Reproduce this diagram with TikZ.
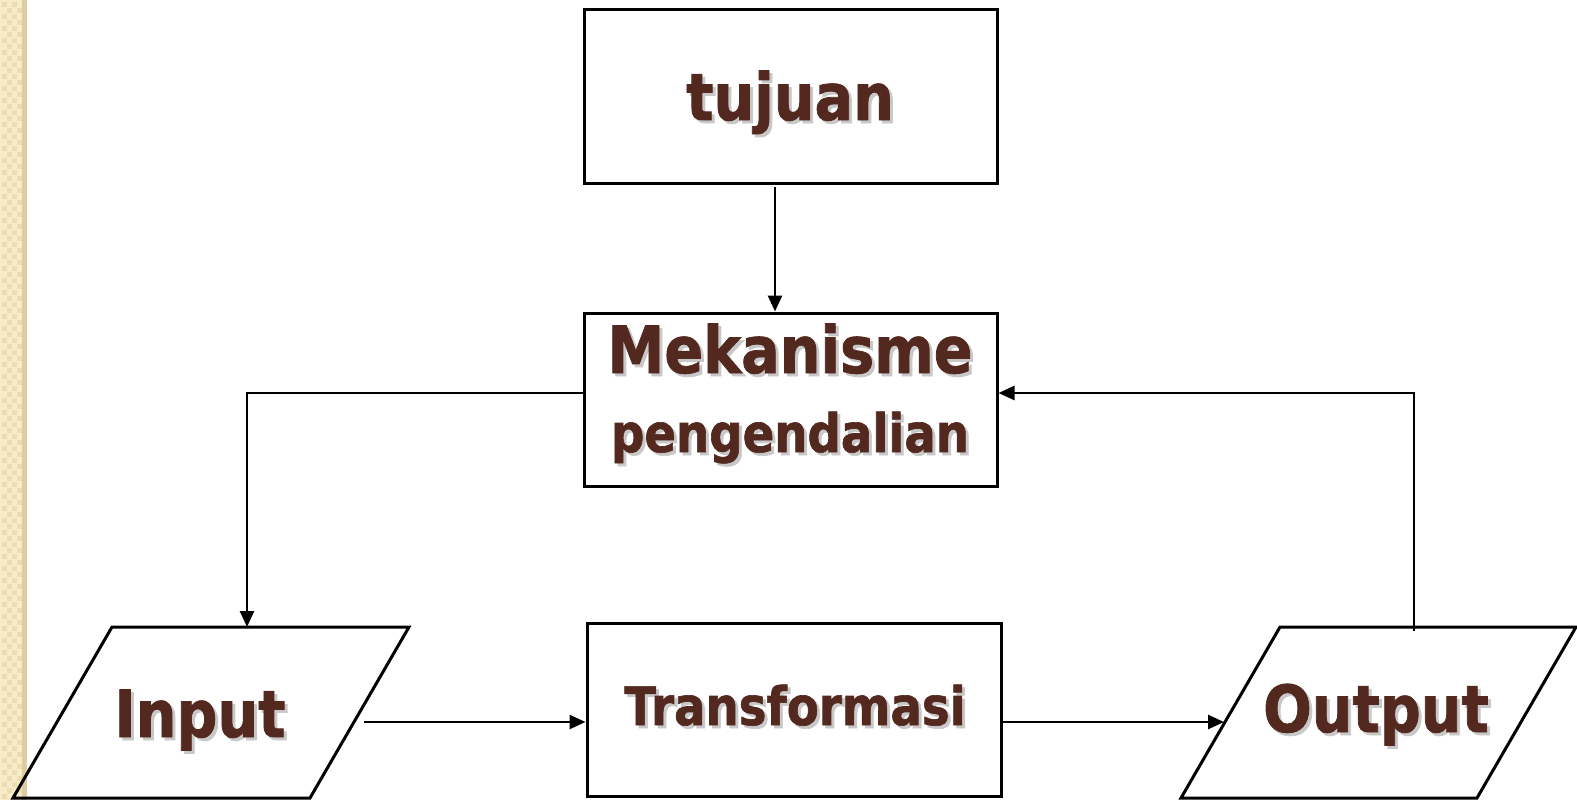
\documentclass[tikz,border=0pt]{standalone}
\usepackage{fontspec}
\usetikzlibrary{arrows.meta}
\newfontfamily\tfont{DejaVu Sans}[FakeStretch=0.88,FakeBold=1.2]
\definecolor{txtbrown}{RGB}{83,40,30}
\definecolor{shadowc}{RGB}{200,200,200}
\definecolor{beige}{RGB}{248,236,200}
\definecolor{beigedark}{RGB}{236,220,176}
\definecolor{beigeedge}{RGB}{222,204,162}
\newcommand\shtext[1]{\makebox[0pt][l]{\hspace{3pt}\raisebox{-3pt}{\color{shadowc}#1}}#1}
\tikzset{
  box/.style={draw=black, line width=3pt, rectangle, inner sep=0pt},
  para/.style={draw=black, line width=3pt, line join=miter},
  big/.style={anchor=base, inner sep=0pt, text=txtbrown,
    font=\tfont\bfseries\fontsize{65}{70}\selectfont},
  small/.style={anchor=base, inner sep=0pt, text=txtbrown,
    font=\tfont\bfseries\fontsize{53}{58}\selectfont},
  arr/.style={line width=2.6pt, -{Triangle[length=16pt,width=14pt]}}
}
\begin{document}
\begin{tikzpicture}[x=1pt,y=-1pt]
\useasboundingbox (0,0) rectangle (1577,800);
% left decorative strip
\fill[beige] (0,0) rectangle (27,800);
\foreach \i in {0,...,66}{
  \foreach \j in {0,1}{
    \fill[beigedark] ({2+\j*10},{\i*12+2}) rectangle ++(5,5);
    \fill[beigedark] ({7+\j*10},{\i*12+8}) rectangle ++(5,5);
  }
}
\fill[beigeedge] (22,0) rectangle (27,800);
% rectangles
\node[box, minimum width=413pt, minimum height=173pt] (tuj) at (790.5,96.5) {};
\node[box, minimum width=413pt, minimum height=173pt] (mek) at (790.5,399.5) {};
\node[box, minimum width=414pt, minimum height=173pt] (tr) at (794,709.5) {};
% parallelograms (Input, Output)
\coordinate (inBL) at (13,798);
\coordinate (inTL) at (112,627);
\coordinate (inTR) at (409,627);
\coordinate (inBR) at (310,798);
\draw[para] (inBL) -- (inTL) -- (inTR) -- (inBR) -- cycle;
\coordinate (outBL) at (1181,798);
\coordinate (outTL) at (1280,627);
\coordinate (outTR) at (1576,627);
\coordinate (outBR) at (1477,798);
\draw[para] (outBL) -- (outTL) -- (outTR) -- (outBR) -- cycle;
% texts
\node[big] (ttuj) at (790,120) {\shtext{tujuan}};
\node[big] (tmek1) at (790,373) {\shtext{Mekanisme}};
\node[small] (tmek2) at (790,452) {\shtext{pengendalian}};
\node[small] (ttr) at (795,725) {\shtext{Transformasi}};
\node[big] (tin) at (200,737) {\shtext{Input}};
\node[big] (tout) at (1376,732) {\shtext{Output}};
% connector ends
\coordinate (inTop) at (247,627);
\coordinate (inR) at (364,722);
\coordinate (outL) at (1224,722);
\coordinate (outT) at (1414,631);
% connectors
\draw[arr] ([xshift=-15.5pt,yshift=-2pt]tuj.south) -- ([xshift=-15.5pt]mek.north);
\draw[arr] ([yshift=6.5pt]mek.west) -| (inTop);
\draw[arr] (inR) -- (inR -| tr.west);
\draw[arr] (outL -| tr.east) -- (outL);
\draw[arr] (outT) |- ([yshift=6.5pt]mek.east);
\end{tikzpicture}
\end{document}
